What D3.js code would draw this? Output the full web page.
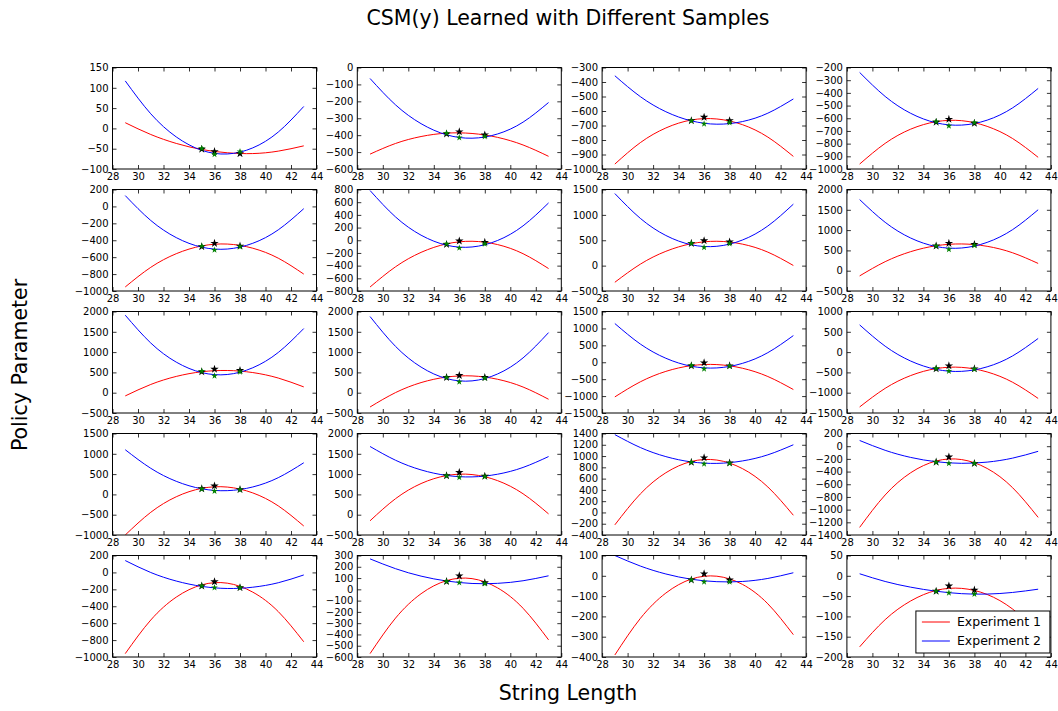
<!DOCTYPE html>
<html>
<head>
<meta charset="utf-8">
<script src="https://cdn.jsdelivr.net/npm/d3@7"></script>
<style>
body { margin: 0; background: #fff; }
svg text { font-family: "DejaVu Sans", sans-serif; fill: #000; }
</style>
</head>
<body>
<div id="chart"></div>
<script>
var curveX = [29, 31, 33, 35, 37, 39, 41, 43];
var sampleX = [35, 36, 38];
var xTicks = [28, 30, 32, 34, 36, 38, 40, 42, 44];

// y range and tick step of every panel (row by row)
var yDomains = [
    [-100, 150], [-600, 0], [-1000, -300], [-1000, -200],
    [-1000, 200], [-800, 800], [-500, 1500], [-500, 2000],
    [-500, 2000], [-500, 2000], [-1500, 1500], [-1500, 1000],
    [-1000, 1500], [-500, 2000], [-400, 1400], [-1400, 200],
    [-1000, 200], [-600, 300], [-400, 100], [-200, 50]
];
var yStep = [50, 100, 100, 100, 200, 200, 500, 500, 500, 500, 500, 500, 500, 500, 200, 200, 200, 100, 100, 50];

// Experiment 1 (red) curve values at curveX
var exp1Curve = [
    [14, -15, -37, -52, -60, -62, -56, -43],
    [-512, -449, -408, -388, -390, -413, -458, -525],
    [-966, -818, -717, -662, -655, -694, -780, -913],
    [-961, -798, -686, -627, -619, -664, -760, -908],
    [-952, -720, -559, -467, -445, -494, -612, -800],
    [-737, -418, -191, -57, -16, -68, -212, -446],
    [-328, 29, 282, 432, 480, 424, 266, 3],
    [-128, 222, 469, 615, 659, 601, 441, 179],
    [-79, 203, 401, 516, 547, 496, 361, 143],
    [-352, 3, 249, 385, 413, 331, 140, -161],
    [-1024, -578, -270, -100, -69, -176, -422, -806],
    [-1351, -893, -578, -406, -376, -489, -743, -1141],
    [-1000, -441, -58, 149, 181, 37, -283, -778],
    [-150, 395, 767, 964, 989, 839, 516, 20],
    [-220, 329, 704, 904, 929, 778, 452, -50],
    [-1280, -769, -419, -233, -211, -351, -655, -1122],
    [-960, -563, -292, -147, -127, -233, -463, -820],
    [-570, -255, -39, 77, 95, 13, -168, -448],
    [-390, -210, -85, -16, -2, -42, -138, -290],
    [-175, -108, -62, -36, -31, -46, -82, -139]
];

// Experiment 2 (blue) curve values at curveX
var exp2Curve = [
    [117, 36, -21, -54, -63, -48, -9, 54],
    [-65, -221, -332, -398, -418, -393, -323, -207],
    [-357, -501, -605, -668, -691, -673, -615, -517],
    [-239, -428, -561, -636, -654, -615, -518, -365],
    [128, -166, -369, -482, -504, -436, -277, -27],
    [784, 367, 80, -78, -106, -4, 227, 588],
    [1420, 931, 594, 411, 381, 504, 781, 1211],
    [1752, 1192, 805, 595, 559, 698, 1012, 1501],
    [1909, 1224, 753, 495, 448, 614, 991, 1580],
    [1876, 1140, 631, 348, 291, 461, 857, 1480],
    [1144, 538, 118, -118, -168, -34, 284, 788],
    [670, 146, -220, -426, -474, -363, -93, 336],
    [1100, 643, 322, 138, 92, 183, 412, 779],
    [1680, 1341, 1103, 967, 931, 997, 1164, 1432],
    [1380, 1151, 990, 896, 870, 913, 1022, 1200],
    [90, -65, -177, -245, -270, -251, -188, -81],
    [140, -1, -102, -165, -190, -175, -122, -30],
    [270, 183, 117, 74, 52, 53, 76, 120],
    [100, 48, 9, -17, -29, -28, -13, 15],
    [5, -14, -28, -38, -44, -45, -41, -33]
];

// sampled points (black stars = experiment 1, green = experiment 2)
var exp1Samples = [
    [-51, -57, -62], [-392, -380, -398], [-666, -643, -666], [-631, -608, -639],
    [-475, -436, -468], [-64, -11, -32], [440, 493, 467], [609, 675, 650],
    [515, 581, 548], [375, 424, 375], [-104, -15, -104], [-411, -337, -411],
    [140, 210, 120], [960, 1040, 950], [890, 970, 880], [-250, -170, -270],
    [-160, -110, -180], [70, 120, 60], [-20, 10, -20], [-38, -25, -35]
];
var exp2Samples = [
    [-49, -64, -57], [-388, -414, -408], [-668, -689, -680], [-626, -660, -634],
    [-468, -515, -475], [-58, -122, -58], [440, 361, 434], [609, 526, 626],
    [531, 416, 515], [375, 268, 358], [-94, -193, -114], [-403, -469, -419],
    [130, 80, 120], [960, 920, 940], [890, 860, 870], [-250, -270, -270],
    [-160, -180, -180], [70, 60, 50], [-20, -30, -30], [-38, -42, -45]
];

var seriesNames = ['Experiment 1', 'Experiment 2'];
var seriesColors = ['#ff0000', '#0000ff'];

var width = 1058;
var height = 711;
var panelW = 204;
var panelH = 101.5;
var left0 = 112.5;
var top0 = 67.5;
var colStep = 244.8;
var rowStep = 122;
var nCols = 4;

var svg = d3.select('#chart')
    .append('svg')
    .attr('width', width)
    .attr('height', height);

var xScale = d3.scaleLinear().domain([28, 44]).range([0, panelW]);

var star = d3.symbol().type(d3.symbolStar);

yDomains.forEach(function(dom, i) {
    var col = i % nCols;
    var row = Math.floor(i / nCols);
    var g = svg.append('g')
        .attr('transform', 'translate(' + (left0 + col * colStep) + ',' + (top0 + row * rowStep) + ')');

    var yScale = d3.scaleLinear().domain(dom).range([panelH, 0]);
    var yTicks = d3.range(dom[0], dom[1] + yStep[i] / 2, yStep[i]);

    g.append('clipPath')
        .attr('id', 'clip' + i)
        .append('rect')
        .attr('width', panelW)
        .attr('height', panelH);

    var plot = g.append('g').attr('clip-path', 'url(#clip' + i + ')');

    var line = d3.line()
        .x(function(d, j) { return xScale(curveX[j]); })
        .y(function(d) { return yScale(d); })
        .curve(d3.curveNatural);

    [exp1Curve[i], exp2Curve[i]].forEach(function(vals, s) {
        plot.append('path')
            .attr('d', line(vals))
            .attr('fill', 'none')
            .attr('stroke', seriesColors[s])
            .attr('stroke-width', 1);
    });

    plot.selectAll('.s1')
        .data(exp1Samples[i])
        .enter()
        .append('path')
        .attr('d', star.size(22)())
        .attr('transform', function(d, j) {
            return 'translate(' + xScale(sampleX[j]) + ',' + yScale(d) + ')';
        })
        .attr('fill', '#000');

    plot.selectAll('.s2')
        .data(exp2Samples[i])
        .enter()
        .append('path')
        .attr('d', star.size(14)())
        .attr('transform', function(d, j) {
            return 'translate(' + xScale(sampleX[j]) + ',' + yScale(d) + ')';
        })
        .attr('fill', '#008000');

    // axes: classic style, inward ticks on all four sides
    g.append('g')
        .attr('transform', 'translate(0,' + panelH + ')')
        .call(d3.axisBottom(xScale).tickValues(xTicks).tickSizeInner(-4).tickSizeOuter(0).tickPadding(4).tickFormat(d3.format('d')));
    g.append('g')
        .call(d3.axisLeft(yScale).tickValues(yTicks).tickSizeInner(-4).tickSizeOuter(0).tickPadding(4).tickFormat(d3.format('d')));
    g.append('g')
        .call(d3.axisTop(xScale).tickValues(xTicks).tickSizeInner(-4).tickSizeOuter(0).tickFormat(''));
    g.append('g')
        .attr('transform', 'translate(' + panelW + ',0)')
        .call(d3.axisRight(yScale).tickValues(yTicks).tickSizeInner(-4).tickSizeOuter(0).tickFormat(''));

    g.selectAll('.domain').remove();
    g.selectAll('.tick text').attr('font-size', 10).attr('font-family', '"DejaVu Sans", sans-serif');
    g.selectAll('.tick line').attr('stroke', '#000').attr('stroke-width', 0.8);

    g.append('rect')
        .attr('width', panelW)
        .attr('height', panelH)
        .attr('fill', 'none')
        .attr('stroke', '#000')
        .attr('stroke-width', 1);

    // legend in last panel
    if (i == yDomains.length - 1) {
        var lg = g.append('g').attr('transform', 'translate(' + (panelW - 135) + ',' + (panelH - 46) + ')');
        lg.append('rect')
            .attr('width', 134)
            .attr('height', 42)
            .attr('fill', '#fff')
            .attr('stroke', '#000')
            .attr('stroke-width', 1);
        seriesNames.forEach(function(name, s) {
            lg.append('line')
                .attr('x1', 6).attr('x2', 34)
                .attr('y1', 11 + s * 19).attr('y2', 11 + s * 19)
                .attr('stroke', seriesColors[s]);
            lg.append('text')
                .attr('x', 41)
                .attr('y', 11 + s * 19)
                .attr('dy', '0.35em')
                .attr('font-size', 12.5)
                .text(name);
        });
    }
});

svg.append('text')
    .attr('x', 568)
    .attr('y', 18)
    .attr('dy', '0.35em')
    .attr('text-anchor', 'middle')
    .attr('font-size', 20.5)
    .text('CSM(y) Learned with Different Samples');

svg.append('text')
    .attr('x', 568)
    .attr('y', 693)
    .attr('dy', '0.35em')
    .attr('text-anchor', 'middle')
    .attr('font-size', 20.5)
    .text('String Length');

svg.append('text')
    .attr('transform', 'translate(20,365) rotate(-90)')
    .attr('dy', '0.35em')
    .attr('text-anchor', 'middle')
    .attr('font-size', 20.5)
    .text('Policy Parameter');
</script>
</body>
</html>
